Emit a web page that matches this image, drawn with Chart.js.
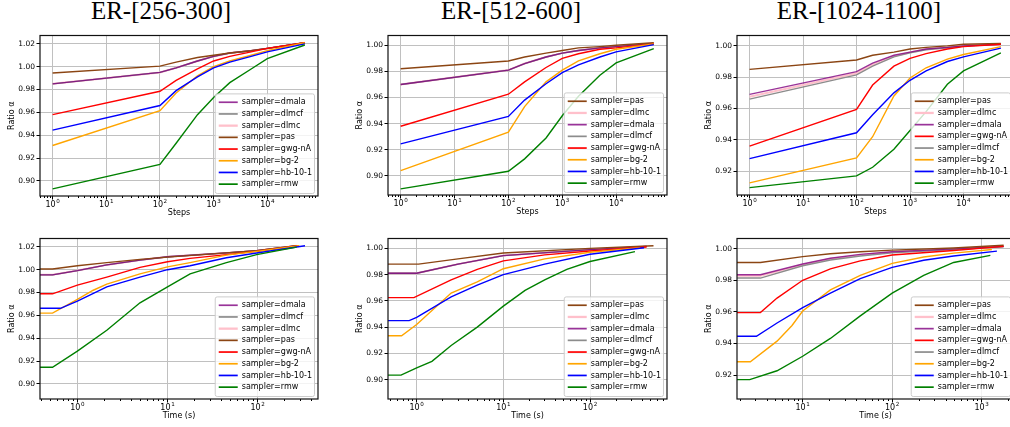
<!DOCTYPE html>
<html>
<head>
<meta charset="utf-8">
<script src="https://cdn.jsdelivr.net/npm/chart.js@4.4.0/dist/chart.umd.min.js"></script>
<style>
  html, body { margin: 0; padding: 0; background: #fff; overflow: hidden; }
  #wrap { position: relative; width: 1010px; height: 427px; overflow: hidden; }
  canvas { position: absolute; }
  .ttl { position: absolute; top: -4px; font: 25px "Liberation Serif", "Times New Roman", serif;
         line-height: 30px; white-space: nowrap; transform: translateX(-50%); color: #000; }
</style>
</head>
<body>
<div id="wrap">
  <div class="ttl" style="left:161px">ER-[256-300]</div>
  <div class="ttl" style="left:511px">ER-[512-600]</div>
  <div class="ttl" style="left:859px">ER-[1024-1100]</div>
  <canvas id="c1"></canvas>
  <canvas id="c2"></canvas>
  <canvas id="c3"></canvas>
  <canvas id="c4"></canvas>
  <canvas id="c5"></canvas>
  <canvas id="c6"></canvas>
</div>
<script>
// sampler names and legend order per column
const legend256 = ["dmala", "dlmcf", "dlmc", "pas", "gwg-nA", "bg-2", "hb-10-1", "rmw"];
const legend512 = ["pas", "dlmc", "dmala", "dlmcf", "gwg-nA", "bg-2", "hb-10-1", "rmw"];
const legend1024 = ["pas", "dlmc", "dmala", "gwg-nA", "dlmcf", "bg-2", "hb-10-1", "rmw"];

// tick labels
const yTicks256 = [0.90, 0.92, 0.94, 0.96, 0.98, 1.00, 1.02];
const yTicks512 = [0.90, 0.92, 0.94, 0.96, 0.98, 1.00];
const yTicks1024 = [0.92, 0.94, 0.96, 0.98, 1.00];

// top row: ratio vs steps
const steps = [1, 100, 200, 500, 1000, 2000, 5000, 10000, 50000];

const stepRatio256 = {
  dmala:     [0.985, 0.995, 0.999, 1.005, 1.009, 1.012, 1.014, 1.016, 1.021],
  dlmcf:     [0.985, 0.995, 0.999, 1.005, 1.009, 1.012, 1.014, 1.016, 1.021],
  dlmc:      [0.985, 0.995, 0.999, 1.005, 1.009, 1.012, 1.014, 1.016, 1.021],
  pas:       [0.9945, 1.0005, 1.004, 1.008, 1.010, 1.012, 1.014, 1.016, 1.021],
  "gwg-nA":  [0.958, 0.9785, 0.988, 0.998, 1.005, 1.009, 1.013, 1.016, 1.021],
  "bg-2":    [0.931, 0.9615, 0.977, 0.992, 1.000, 1.005, 1.010, 1.014, 1.021],
  "hb-10-1": [0.9445, 0.966, 0.979, 0.991, 0.999, 1.004, 1.009, 1.013, 1.020],
  rmw:       [0.893, 0.9145, 0.933, 0.958, 0.973, 0.986, 0.998, 1.007, 1.019]
};
const stepRatio512 = {
  pas:       [0.982, 0.988, 0.991, 0.994, 0.996, 0.998, 0.999, 1.000, 1.002],
  dlmc:      [0.970, 0.981, 0.986, 0.991, 0.994, 0.996, 0.998, 0.999, 1.0015],
  dmala:     [0.970, 0.981, 0.986, 0.991, 0.994, 0.996, 0.998, 0.999, 1.0015],
  dlmcf:     [0.970, 0.981, 0.986, 0.991, 0.994, 0.996, 0.998, 0.999, 1.0015],
  "gwg-nA":  [0.938, 0.9625, 0.972, 0.983, 0.990, 0.9935, 0.997, 0.998, 1.001],
  "bg-2":    [0.904, 0.9335, 0.953, 0.972, 0.981, 0.988, 0.9935, 0.997, 1.001],
  "hb-10-1": [0.9245, 0.9455, 0.958, 0.9705, 0.979, 0.985, 0.991, 0.995, 1.0005],
  rmw:       [0.890, 0.9035, 0.913, 0.929, 0.946, 0.961, 0.977, 0.9865, 0.9975]
};
const stepRatio1024 = {
  pas:       [0.985, 0.991, 0.994, 0.996, 0.998, 0.999, 1.000, 1.001, 1.0015],
  dlmc:      [0.9675, 0.9825, 0.988, 0.9935, 0.9958, 0.9978, 0.999, 1.000, 1.001],
  dmala:     [0.969, 0.9835, 0.989, 0.994, 0.996, 0.998, 0.999, 1.000, 1.001],
  "gwg-nA":  [0.936, 0.9595, 0.975, 0.987, 0.992, 0.995, 0.998, 0.9995, 1.001],
  dlmcf:     [0.966, 0.9815, 0.987, 0.993, 0.9955, 0.9975, 0.9988, 0.9998, 1.001],
  "bg-2":    [0.9125, 0.9285, 0.942, 0.968, 0.9795, 0.986, 0.9915, 0.9945, 0.9995],
  "hb-10-1": [0.928, 0.9445, 0.956, 0.970, 0.978, 0.984, 0.990, 0.993, 0.9985],
  rmw:       [0.9095, 0.917, 0.9225, 0.934, 0.946, 0.958, 0.9755, 0.984, 0.9955]
};

// bottom row: ratio vs wall time (s)
const time256 = {
  dmala:     [0.385, 0.53, 1, 2.12, 4.95, 10, 45, 97.5, 271],
  dlmcf:     [0.385, 0.53, 1, 2.12, 4.95, 10, 45, 97.5, 271],
  dlmc:      [0.385, 0.53, 1, 2.12, 4.95, 10, 45, 97.5, 271],
  pas:       [0.385, 0.53, 1, 2.12, 4.95, 10, 45, 97.5, 271],
  "gwg-nA":  [0.385, 0.53, 1, 2.12, 4.95, 10, 17.8, 45, 97.5, 285],
  "bg-2":    [0.385, 0.53, 1, 1.5, 2.12, 4.95, 10, 17.8, 45, 97.5, 290],
  "hb-10-1": [0.385, 0.65, 1, 2.12, 4.95, 10, 17.8, 45, 97.5, 335],
  rmw:       [0.385, 0.53, 1, 2.12, 4.95, 10, 17.8, 45, 97.5, 271]
};
const timeRatio256 = {
  dmala:     [0.9955, 0.9955, 0.9992, 1.0042, 1.0084, 1.0113, 1.0147, 1.0166, 1.021],
  dlmcf:     [0.9955, 0.9955, 0.9992, 1.0042, 1.0084, 1.0113, 1.0147, 1.0166, 1.021],
  dlmc:      [0.9955, 0.9955, 0.9992, 1.0042, 1.0084, 1.0113, 1.0147, 1.0166, 1.021],
  pas:       [1.0006, 1.0006, 1.0034, 1.0062, 1.009, 1.011, 1.0147, 1.0166, 1.021],
  "gwg-nA":  [0.9789, 0.9789, 0.9865, 0.9935, 1.002, 1.007, 1.0099, 1.0132, 1.016, 1.021],
  "bg-2":    [0.962, 0.962, 0.974, 0.982, 0.9873, 0.9963, 1.0025, 1.0062, 1.0127, 1.016, 1.021],
  "hb-10-1": [0.9662, 0.9662, 0.9724, 0.985, 0.9935, 1.000, 1.0034, 1.0104, 1.0146, 1.021],
  rmw:       [0.9146, 0.9146, 0.9287, 0.947, 0.971, 0.985, 0.9963, 1.0062, 1.0132, 1.0197]
};
const time512 = {
  pas:       [0.467, 1.05, 3, 10, 100, 540],
  dlmc:      [0.467, 1.0, 3, 10, 100, 450],
  dmala:     [0.467, 1.0, 3, 10, 100, 450],
  dlmcf:     [0.467, 1.0, 3, 10, 100, 450],
  "gwg-nA":  [0.467, 0.93, 2.5, 5, 10, 30, 100, 450],
  "bg-2":    [0.467, 0.67, 1, 2.5, 5, 10, 30, 100, 380],
  "hb-10-1": [0.467, 0.82, 1, 2.5, 5, 10, 30, 100, 420],
  rmw:       [0.467, 0.66, 1, 1.5, 2.5, 5, 10, 17.8, 30, 54, 100, 330]
};
const timeRatio512 = {
  pas:       [0.988, 0.988, 0.992, 0.9965, 1.000, 1.002],
  dlmc:      [0.981, 0.981, 0.988, 0.9945, 0.999, 1.0015],
  dmala:     [0.981, 0.981, 0.988, 0.9945, 0.999, 1.0015],
  dlmcf:     [0.981, 0.981, 0.988, 0.9945, 0.999, 1.0015],
  "gwg-nA":  [0.9625, 0.9625, 0.976, 0.984, 0.9905, 0.995, 0.998, 1.001],
  "bg-2":    [0.9335, 0.9335, 0.942, 0.966, 0.9745, 0.9845, 0.992, 0.997, 1.0005],
  "hb-10-1": [0.945, 0.945, 0.9475, 0.963, 0.972, 0.980, 0.988, 0.9955, 1.0005],
  rmw:       [0.9035, 0.9035, 0.909, 0.914, 0.926, 0.940, 0.956, 0.968, 0.976, 0.984, 0.990, 0.9975]
};
const time1024 = {
  pas:       [1.845, 3.37, 10, 20.4, 44, 100, 486, 1760],
  dlmc:      [1.845, 3.37, 10, 20.4, 44, 100, 486, 1760],
  dmala:     [1.845, 3.37, 10, 20.4, 44, 100, 486, 1760],
  "gwg-nA":  [1.845, 3.37, 5.17, 10, 20.4, 44, 100, 486, 1760],
  dlmcf:     [1.845, 3.37, 10, 20.4, 44, 100, 486, 1760],
  "bg-2":    [1.845, 2.6, 5.17, 7.6, 10, 20.4, 44, 100, 225, 486, 1300],
  "hb-10-1": [1.845, 3.04, 5.17, 10, 20.4, 44, 100, 225, 486, 1480],
  rmw:       [1.845, 2.56, 5.17, 10, 20.4, 44, 100, 225, 486, 1250]
};
const timeRatio1024 = {
  pas:       [0.9914, 0.9914, 0.9951, 0.9969, 0.9982, 0.9992, 1.0006, 1.0023],
  dlmc:      [0.983, 0.983, 0.990, 0.9937, 0.9962, 0.998, 0.9998, 1.0015],
  dmala:     [0.9836, 0.9836, 0.9904, 0.9941, 0.9965, 0.9982, 1.000, 1.0016],
  "gwg-nA":  [0.9596, 0.9596, 0.9688, 0.9801, 0.9873, 0.9924, 0.9961, 0.999, 1.0016],
  dlmcf:     [0.9815, 0.9815, 0.9893, 0.993, 0.9955, 0.9975, 0.9996, 1.0014],
  "bg-2":    [0.9284, 0.9284, 0.9415, 0.9514, 0.9606, 0.974, 0.9832, 0.9908, 0.9949, 0.9973, 0.9996],
  "hb-10-1": [0.9446, 0.9446, 0.953, 0.9627, 0.9719, 0.9811, 0.9883, 0.9928, 0.9955, 0.9986],
  rmw:       [0.9171, 0.9171, 0.9227, 0.9319, 0.9432, 0.9575, 0.9719, 0.9832, 0.9914, 0.9959]
};

const colors = {
  dmala: "rgba(128,0,128,0.8)", dlmcf: "#8c8c8c", dlmc: "#ffc0cb", pas: "#8b4513",
  "gwg-nA": "#ff0000", "bg-2": "#ffa500", "hb-10-1": "#0000ff", rmw: "#008000"
};
const widths = { dlmc: 2 };
// draw order, later ones on top
const drawOrder = ["dlmc", "dlmcf", "dmala", "pas", "gwg-nA", "bg-2", "hb-10-1", "rmw"];

const FONT = "'DejaVu Sans', sans-serif";
const GRID = "#c0c0c0";
const SUP = { "0": "\u2070", "1": "\u00b9", "2": "\u00b2", "3": "\u00b3", "4": "\u2074", "-": "\u207b" };

function isDecade(v) {
  const l = Math.log10(v);
  return Math.abs(l - Math.round(l)) < 1e-9;
}
function logTicks(min, max) {
  const out = [];
  for (let e = Math.floor(Math.log10(min)); e <= Math.ceil(Math.log10(max)); e++) {
    for (let k = 1; k <= 9; k++) {
      const v = k * Math.pow(10, e);
      if (v >= min && v <= max) out.push(v);
    }
  }
  return out;
}

const framePlugin = {
  id: "frame",
  afterDatasetsDraw(chart, args, opts) {
    const { ctx, chartArea: a } = chart;
    const xs = chart.scales.x, ys = chart.scales.y;
    ctx.save();
    ctx.strokeStyle = "#000";
    ctx.lineWidth = 1;
    ctx.beginPath();
    xs.ticks.forEach(t => {
      const p = Math.round(xs.getPixelForValue(t.value) - 0.5) + 0.5;
      const len = isDecade(t.value) ? 3.5 : 2;
      ctx.moveTo(p, a.bottom);
      ctx.lineTo(p, a.bottom + len);
    });
    ys.ticks.forEach(t => {
      const p = Math.round(ys.getPixelForValue(t.value) - 0.5) + 0.5;
      ctx.moveTo(a.left - 3.5, p);
      ctx.lineTo(a.left, p);
    });
    ctx.stroke();

    // x tick labels as 10 with raised exponent
    ctx.fillStyle = "#000";
    ctx.textBaseline = "alphabetic";
    ctx.textAlign = "left";
    xs.ticks.forEach(t => {
      if (!isDecade(t.value)) return;
      const p = xs.getPixelForValue(t.value);
      const e = String(Math.round(Math.log10(t.value)));
      ctx.font = "8px " + FONT;
      const wb = ctx.measureText("10").width;
      ctx.font = "5.6px " + FONT;
      const we = ctx.measureText(e).width;
      const x0 = p - (wb + we + 0.6) / 2;
      ctx.font = "8px " + FONT;
      ctx.fillText("10", x0, a.bottom + 10.5);
      ctx.font = "5.6px " + FONT;
      ctx.fillText(e, x0 + wb + 0.6, a.bottom + 6.8);
    });

    ctx.lineWidth = 1.2;
    ctx.strokeStyle = "#111";
    ctx.strokeRect(a.left, a.top, a.right - a.left, a.bottom - a.top);

    // legend box in lower right
    ctx.font = "8px " + FONT;
    const names = opts.order;
    const maxW = Math.max(...names.map(s => ctx.measureText("sampler=" + s).width));
    const rowH = 11.7;
    const w = 26 + maxW + 3, h = rowH * names.length + 6;
    const x0 = a.right - 4 - w, y0 = a.bottom - 3 - h;
    ctx.beginPath();
    ctx.roundRect(x0 + 0.5, y0 + 0.5, w, h, 2);
    ctx.fillStyle = "rgba(255,255,255,0.8)";
    ctx.fill();
    ctx.strokeStyle = "#cccccc";
    ctx.lineWidth = 1;
    ctx.stroke();
    names.forEach((s, i) => {
      const y = y0 + 3 + rowH * (i + 0.5);
      ctx.beginPath();
      ctx.strokeStyle = colors[s];
      ctx.lineWidth = (widths[s] || 1.4) + 0.3;
      ctx.moveTo(x0 + 4, y);
      ctx.lineTo(x0 + 23, y);
      ctx.stroke();
      ctx.fillStyle = "#000";
      ctx.textBaseline = "middle";
      ctx.textAlign = "left";
      ctx.fillText("sampler=" + s, x0 + 27, y);
    });
    ctx.restore();
  }
};

function makePanel(id, box, xRange, yRange, yTicks, xLabel, legendOrder, xData, yData) {
  const cv = document.getElementById(id);
  const W = box.R - box.L + 42, H = box.B - box.T + 28;
  cv.width = W; cv.height = H;
  cv.style.left = (box.L - 40) + "px";
  cv.style.top = (box.T - 4) + "px";
  cv.style.width = W + "px";
  cv.style.height = H + "px";

  const datasets = drawOrder.map((s, i) => {
    const xs = Array.isArray(xData) ? xData : xData[s];
    return {
      label: "sampler=" + s,
      data: xs.map((x, j) => ({ x: x, y: yData[s][j] })),
      borderColor: colors[s],
      borderWidth: widths[s] || 1.4,
      pointRadius: 0,
      tension: 0,
      fill: false,
      order: -i
    };
  });

  new Chart(cv, {
    type: "line",
    data: { datasets: datasets },
    plugins: [framePlugin],
    options: {
      responsive: false,
      animation: false,
      layout: { padding: { top: 4, right: 2, left: 0, bottom: 0 } },
      plugins: {
        legend: { display: false },
        tooltip: { enabled: false },
        frame: { order: legendOrder }
      },
      scales: {
        x: {
          type: "logarithmic",
          min: xRange[0],
          max: xRange[1],
          afterBuildTicks: sc => { sc.ticks = logTicks(xRange[0], xRange[1]).map(v => ({ value: v })); },
          afterFit: sc => { sc.height = 24; },
          ticks: { autoSkip: false, maxRotation: 0, padding: 3, font: { family: FONT, size: 7.5 }, callback: () => "" },
          grid: {
            drawTicks: false, lineWidth: 1,
            color: c => (c.tick && isDecade(c.tick.value)) ? GRID : "rgba(0,0,0,0)"
          },
          border: { display: false },
          title: { display: true, text: xLabel, color: "#000", font: { family: FONT, size: 8 }, padding: { top: 0, bottom: 2 } }
        },
        y: {
          type: "linear",
          min: yRange[0],
          max: yRange[1],
          afterBuildTicks: sc => { sc.ticks = yTicks.map(v => ({ value: v })); },
          afterFit: sc => { sc.width = 40; },
          ticks: { padding: 5, color: "#000", font: { family: FONT, size: 7.5 }, callback: v => Number(v).toFixed(2) },
          grid: { drawTicks: false, lineWidth: 1, color: GRID },
          border: { display: false },
          title: { display: true, text: "Ratio \u03b1", color: "#000", font: { family: FONT, size: 8 }, padding: { top: 7, bottom: 0 } }
        }
      }
    }
  });
}

const stepRange = [0.582, 88000];
makePanel("c1", { L: 40, T: 30, R: 318, B: 196 }, stepRange, [0.8868, 1.0273], yTicks256, "Steps", legend256, steps, stepRatio256);
makePanel("c2", { L: 388, T: 30, R: 667, B: 195 }, stepRange, [0.8853, 1.0075], yTicks512, "Steps", legend512, steps, stepRatio512);
makePanel("c3", { L: 737, T: 30, R: 1014, B: 195 }, stepRange, [0.9048, 1.0066], yTicks1024, "Steps", legend1024, steps, stepRatio1024);
makePanel("c4", { L: 40, T: 233, R: 318, B: 399 }, [0.385, 467], [0.8868, 1.0273], yTicks256, "Time (s)", legend256, time256, timeRatio256);
makePanel("c5", { L: 388, T: 233, R: 667, B: 399 }, [0.467, 773], [0.8853, 1.0075], yTicks512, "Time (s)", legend512, time512, timeRatio512);
makePanel("c6", { L: 737, T: 233, R: 1014, B: 399 }, [1.845, 2297], [0.9048, 1.0066], yTicks1024, "Time (s)", legend1024, time1024, timeRatio1024);
</script>
</body>
</html>
